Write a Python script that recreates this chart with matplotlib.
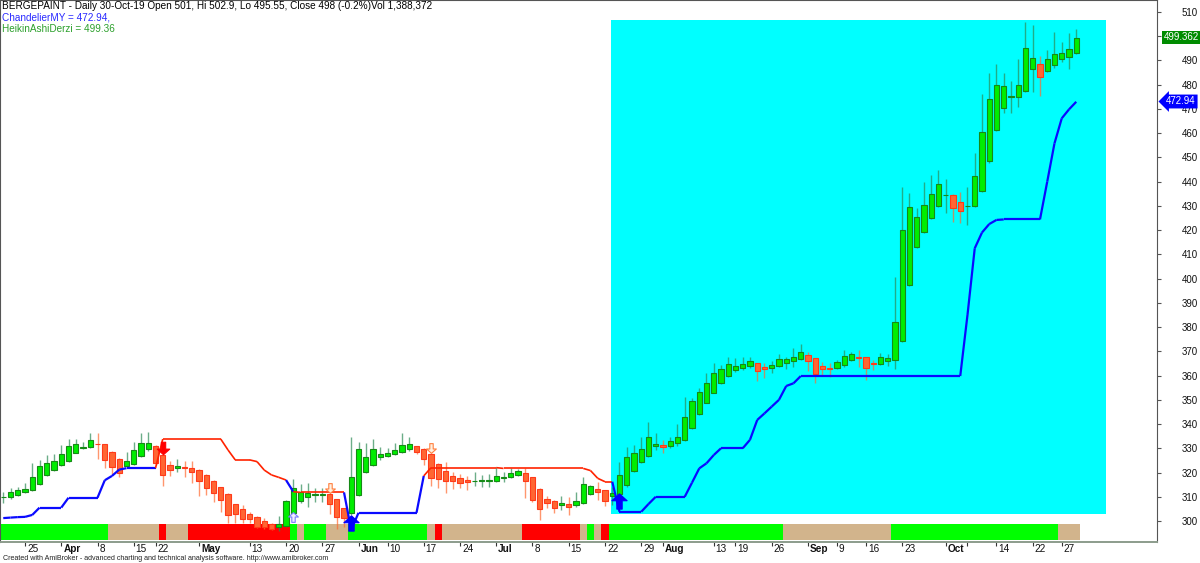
import numpy as np
import pandas as pd
import matplotlib
matplotlib.use("Agg")
import matplotlib.pyplot as plt
import matplotlib.transforms as mtransforms
from matplotlib.collections import LineCollection
from matplotlib.patches import Rectangle
from matplotlib.path import Path

plt.rcParams['font.family'] = ['Liberation Sans', 'DejaVu Sans']

# NSE trading days 19-Mar-2019 .. 30-Oct-2019 (27-Oct = Muhurat session)
holidays = ['2019-03-21', '2019-04-17', '2019-04-19', '2019-04-29', '2019-05-01',
            '2019-06-05', '2019-08-12', '2019-08-15', '2019-09-02', '2019-09-10',
            '2019-10-02', '2019-10-08', '2019-10-21', '2019-10-28']
extra_days = ['2019-10-27']

# Heikin Ashi candles (open, high, low, close)
ha_open = [309.8, 309.8, 310.7, 311.8, 312.8, 315.1, 319.0, 321.0, 323.1, 324.9,
           328.2, 330.0, 330.4, 331.8, 331.8, 328.5, 325.4, 322.5, 323.6, 327.0,
           329.5, 330.9, 327.3, 323.1, 322.0, 322.3, 322.0, 321.2, 319.0, 316.3,
           313.9, 311.2, 306.9, 304.8, 302.9, 301.8, 299.8, 298.6, 297.5, 298.0,
           303.2, 308.3, 310.0, 310.6, 310.8, 311.0, 309.0, 305.2, 303.1, 310.6,
           320.2, 323.2, 326.4, 327.0, 327.6, 328.5, 329.8, 330.8, 329.7, 327.6,
           323.5, 320.8, 318.6, 317.6, 316.9, 316.5, 316.6, 316.7, 316.7, 317.8,
           318.0, 319.0, 319.8, 318.1, 313.4, 309.1, 308.4, 306.6, 307.0, 306.4,
           307.3, 311.2, 313.0, 312.6, 310.4, 311.0, 315.0, 320.8, 324.3, 327.0,
           330.8, 331.4, 331.0, 332.0, 333.4, 338.2, 344.0, 348.8, 353.0, 357.0,
           359.7, 362.3, 363.2, 364.0, 365.0, 363.4, 363.0, 363.8, 365.2, 366.0,
           366.8, 368.3, 367.1, 363.8, 363.3, 363.0, 364.4, 366.4, 367.7, 367.5,
           365.3, 364.9, 366.2, 366.6, 374.3, 397.2, 413.2, 419.2, 424.8, 429.8,
           434.4, 434.5, 431.7, 429.8, 429.9, 436.2, 448.4, 461.2, 470.4, 475.0,
           475.1, 477.5, 486.3, 488.6, 485.8, 488.1, 490.4, 491.6, 493.1]
ha_high = [312.1, 313.7, 314.2, 315.5, 323.8, 325.2, 327.2, 327.6, 331.3, 333.7,
           333.7, 332.7, 336.4, 336.2, 331.8, 329.0, 326.0, 328.6, 332.7, 336.2,
           336.6, 331.5, 327.6, 324.8, 325.4, 324.8, 324.8, 321.3, 319.5, 317.0,
           314.0, 311.5, 307.0, 306.6, 303.8, 302.0, 301.1, 299.0, 302.0, 308.5,
           317.2, 315.3, 315.8, 313.7, 313.7, 311.5, 309.2, 305.4, 334.8, 332.7,
           332.0, 333.7, 330.7, 330.0, 332.0, 336.5, 334.8, 331.0, 330.0, 328.0,
           323.8, 324.5, 320.3, 319.4, 318.6, 320.3, 319.0, 319.5, 322.4, 320.3,
           321.7, 321.3, 321.7, 318.3, 313.6, 310.3, 308.6, 310.3, 309.8, 312.1,
           318.0, 314.8, 316.2, 312.8, 314.2, 324.5, 330.7, 331.3, 334.8, 341.0,
           336.4, 333.4, 334.8, 340.0, 351.3, 350.6, 354.7, 360.9, 365.0, 364.4,
           367.8, 367.1, 367.5, 367.5, 365.3, 365.3, 366.1, 368.8, 367.8, 371.2,
           372.9, 369.9, 367.2, 365.7, 365.0, 366.4, 370.5, 369.9, 370.5, 367.8,
           366.4, 369.2, 368.9, 400.8, 437.6, 435.2, 429.0, 440.0, 442.7, 444.8,
           440.9, 434.7, 435.8, 437.9, 451.7, 476.1, 484.7, 488.4, 484.7, 481.6,
           490.4, 505.7, 504.6, 491.8, 494.3, 501.6, 497.7, 501.2, 502.8]
ha_low = [307.3, 309.1, 310.3, 311.4, 312.5, 314.8, 318.6, 320.8, 322.7, 324.5,
          327.9, 329.6, 330.0, 325.4, 321.7, 319.5, 318.0, 322.1, 323.3, 326.2,
          329.0, 323.0, 314.4, 318.6, 320.3, 318.0, 315.5, 310.3, 310.7, 308.0,
          303.9, 299.0, 299.3, 299.3, 299.0, 297.0, 296.5, 296.2, 296.0, 297.5,
          302.9, 307.3, 305.9, 307.7, 307.7, 302.9, 296.5, 297.6, 302.5, 310.3,
          319.9, 322.8, 325.2, 326.5, 327.2, 327.9, 329.0, 327.5, 323.1, 314.4,
          313.5, 311.4, 313.0, 313.5, 312.8, 314.4, 313.9, 314.2, 316.2, 316.2,
          317.6, 318.6, 309.4, 308.0, 300.4, 305.2, 303.2, 304.5, 302.5, 305.9,
          307.0, 310.7, 308.7, 306.2, 306.6, 310.3, 314.2, 320.4, 323.8, 326.5,
          329.3, 327.9, 330.0, 331.0, 333.1, 337.8, 343.7, 348.5, 352.7, 356.5,
          359.3, 361.6, 362.3, 363.0, 357.8, 358.9, 360.9, 363.4, 362.6, 363.7,
          366.4, 362.0, 357.1, 360.2, 359.5, 362.6, 363.7, 366.0, 363.7, 358.2,
          362.3, 364.4, 364.0, 362.6, 373.9, 396.8, 412.5, 418.7, 424.5, 429.4,
          427.2, 423.5, 423.1, 422.1, 429.4, 435.9, 447.8, 460.9, 468.2, 468.2,
          470.9, 477.1, 477.1, 475.3, 485.4, 486.7, 489.5, 486.3, 492.7]
ha_close = [309.85, 311.8, 312.8, 313.4, 318.0, 322.7, 324.1, 324.7, 327.6, 331.1,
            331.8, 330.4, 333.4, 331.7, 325.2, 322.4, 319.6, 324.7, 329.3, 332.0,
            332.3, 323.8, 319.0, 321.0, 322.7, 321.7, 320.3, 316.6, 313.5, 311.4,
            308.6, 302.5, 302.7, 301.0, 300.7, 297.7, 297.4, 296.5, 298.6, 308.2,
            313.5, 311.8, 311.4, 311.0, 311.2, 307.0, 301.5, 301.1, 318.0, 329.6,
            326.3, 329.6, 327.5, 328.2, 329.3, 331.2, 331.8, 328.6, 325.4, 317.6,
            317.3, 316.5, 316.6, 315.8, 316.0, 316.6, 316.7, 316.8, 318.7, 318.3,
            319.7, 320.6, 316.5, 308.7, 304.8, 307.6, 305.2, 307.3, 305.9, 308.3,
            315.1, 314.6, 312.1, 308.3, 311.7, 319.0, 326.5, 327.9, 329.6, 334.5,
            331.8, 330.7, 333.1, 334.8, 342.8, 349.6, 353.4, 357.1, 360.9, 362.6,
            364.8, 364.1, 364.8, 366.1, 362.0, 362.6, 364.4, 366.8, 366.7, 367.8,
            369.9, 366.0, 360.6, 362.6, 362.7, 365.7, 368.2, 368.9, 367.1, 363.0,
            364.6, 367.5, 367.1, 382.1, 420.0, 429.4, 425.3, 430.4, 434.8, 439.0,
            434.6, 429.0, 428.0, 430.1, 442.5, 460.6, 473.9, 479.7, 479.6, 475.3,
            479.9, 495.0, 490.9, 483.0, 490.5, 492.6, 492.9, 494.6, 499.36]

# Chandelier stop and its trend (+1 long / -1 short) as run lengths
chandelier = [301.2, 301.4, 301.6, 301.7, 302.5, 305.5, 305.5, 305.5, 305.5, 309.6,
              309.6, 309.6, 309.6, 309.6, 316.8, 318.6, 321.2, 321.8, 321.8, 321.8,
              321.8, 321.8, 333.8, 333.8, 333.8, 333.8, 333.8, 333.8, 333.8, 333.8,
              333.8, 329.3, 325.2, 325.2, 325.2, 324.5, 321.0, 319.0, 318.0, 316.9,
              312.1, 311.8, 311.8, 311.8, 311.8, 311.8, 311.8, 311.8, 296.3, 303.4,
              303.4, 303.4, 303.4, 303.4, 303.4, 303.4, 303.4, 303.4, 318.6, 322.0,
              322.0, 322.0, 322.0, 322.0, 322.0, 322.0, 322.0, 322.0, 322.0, 321.7,
              321.7, 321.7, 321.7, 321.7, 321.7, 321.7, 321.7, 321.7, 321.7, 321.7,
              321.7, 320.8, 317.6, 316.2, 316.2, 303.8, 303.8, 303.8, 303.8, 307.0,
              310.0, 310.0, 310.0, 310.0, 310.0, 315.8, 321.7, 323.8, 327.2, 330.0,
              330.0, 330.0, 330.0, 333.5, 341.7, 344.4, 347.2, 350.0, 355.7, 356.8,
              359.8, 359.8, 359.8, 359.8, 359.8, 359.8, 359.8, 359.8, 359.8, 359.8,
              359.8, 359.8, 359.8, 359.8, 359.8, 359.8, 359.8, 359.8, 359.8, 359.8,
              359.8, 359.8, 359.8, 385.0, 412.5, 419.0, 422.5, 424.2, 424.4, 424.4,
              424.4, 424.4, 424.4, 424.4, 440.0, 455.8, 466.1, 469.8, 472.94]
trend_runs = [(1, 22), (-1, 18), (1, 1), (-1, 7), (1, 11), (-1, 26), (1, 64)]

# bottom ribbon: g = green, t = tan, r = red
ribbon_runs = [('g', 15), ('t', 7), ('r', 1), ('t', 3), ('r', 14), ('g', 1), ('t', 1),
               ('g', 3), ('t', 3), ('g', 11), ('t', 1), ('r', 1), ('t', 11), ('r', 8),
               ('t', 1), ('g', 1), ('t', 1), ('r', 1), ('g', 24), ('t', 15), ('g', 23),
               ('t', 3)]

# arrows: bar index, price, kind
signal_bars = [22, 40, 45, 48, 59, 85]
signal_price = [330.0, 301.5, 313.8, 299.0, 330.0, 308.3]
signal_kind = ['sell', 'buy_hint', 'sell_hint', 'buy', 'sell_hint', 'buy']

# highlighted zone (bar index range, price range)
zone_bars = (83.83, 152.1)
zone_price = (302.9, 506.7)

tick_dates = ['2019-03-25', '2019-04-01', '2019-04-08', '2019-04-15', '2019-04-22',
              '2019-05-02', '2019-05-13', '2019-05-20', '2019-05-27', '2019-06-03',
              '2019-06-10', '2019-06-17', '2019-06-24', '2019-07-01', '2019-07-08',
              '2019-07-15', '2019-07-22', '2019-07-29', '2019-08-01', '2019-08-13',
              '2019-08-19', '2019-08-26', '2019-09-03', '2019-09-09', '2019-09-16',
              '2019-09-23', '2019-10-01', '2019-10-07', '2019-10-14', '2019-10-22',
              '2019-10-27']
tick_labels = ['25', 'Apr', '8', '15', '22', 'May', '13', '20', '27', 'Jun', '10', '17',
               '24', 'Jul', '8', '15', '22', '29', 'Aug', '13', '19', '26', 'Sep', '9',
               '16', '23', 'Oct', '', '14', '22', '27']
months = {'Apr', 'May', 'Jun', 'Jul', 'Aug', 'Sep', 'Oct'}

title = "BERGEPAINT - Daily 30-Oct-19 Open 501, Hi 502.9, Lo 495.55, Close 498 (-0.2%)Vol 1,388,372"

dates = pd.bdate_range('2019-03-19', '2019-10-30', freq='C', holidays=holidays)
dates = dates.union(pd.DatetimeIndex(extra_days))
x = np.arange(len(dates))
o = np.array(ha_open)
h = np.array(ha_high)
l = np.array(ha_low)
c = np.array(ha_close)

fig = plt.figure(figsize=(12, 5.63), dpi=100)
W, H = 1200, 563
ax = fig.add_axes([0, 21.5 / H, 1157 / W, 541.5 / H])
ax.set_xlim(-0.45, 159.14)
ax.set_ylim(291.54, 514.93)

# cyan zone
ax.add_patch(Rectangle((zone_bars[0], zone_price[0]), zone_bars[1] - zone_bars[0],
                       zone_price[1] - zone_price[0], facecolor='#00ffff',
                       edgecolor='none', zorder=0.5))

# ribbon
rib_col = {'g': '#00ff00', 't': '#d2b48c', 'r': '#ff0000'}
start = 0
for code, n in ribbon_runs:
    ax.add_patch(Rectangle((start - 0.5, 0.002), n, 0.0305, transform=ax.get_xaxis_transform(),
                           facecolor=rib_col[code], edgecolor='none', zorder=1))
    start += n

# candles
up = c >= o
wick_col = np.where(up, '#2e8b57', '#ff6a30')
ax.vlines(x, l, h, colors=wick_col, lw=1.0, alpha=0.7, zorder=3)
body_lo = np.minimum(o, c)
body_h = np.maximum(np.abs(c - o), 0.15)
ax.bar(x[up], body_h[up], bottom=body_lo[up], width=0.72, color='#00ee00',
       edgecolor='#168a16', lw=0.8, zorder=4)
ax.bar(x[~up], body_h[~up], bottom=body_lo[~up], width=0.72, color='#ff6633',
       edgecolor='#ff3a1a', lw=0.8, zorder=4)

# chandelier line, coloured by trend
trend = np.concatenate([[t] * n for t, n in trend_runs])
stop = np.array(chandelier)
pts = np.column_stack([x, stop])
segs = np.stack([pts[:-1], pts[1:]], axis=1)
seg_col = ['#0a0aff' if t > 0 else '#ff2200' for t in trend[1:]]
seg_lw = [1.6 if t > 0 else 1.2 for t in trend[1:]]
ax.add_collection(LineCollection(segs, colors=seg_col, linewidths=seg_lw, zorder=5))

# arrows
arrow_up = Path([(0, 1), (1, 0.1), (0.35, 0.1), (0.35, -1), (-0.35, -1), (-0.35, 0.1),
                 (-1, 0.1), (0, 1)], closed=True)
arrow_dn = Path(arrow_up.vertices * [1, -1], arrow_up.codes)
sig_style = {
    'sell': dict(marker=arrow_dn, ms=9, mfc='#ff0000', mec='#ff0000'),
    'buy': dict(marker=arrow_up, ms=11, mfc='#0000ff', mec='#0000ff'),
    'sell_hint': dict(marker=arrow_dn, ms=7, mfc='#fff0e0', mec='#ff8040'),
    'buy_hint': dict(marker=arrow_up, ms=7, mfc='#f0f0ff', mec='#7a7aff'),
}
for b, p, k in zip(signal_bars, signal_price, signal_kind):
    ax.plot([b], [p], ls='none', mew=0.8, zorder=6, **sig_style[k])

# axes styling
for s in ['top', 'left', 'right']:
    ax.spines[s].set_color('#555555')
ax.spines['bottom'].set_color('#8c9c8c')
ax.spines['bottom'].set_linewidth(1.4)
ax.yaxis.tick_right()
ax.set_yticks(np.arange(300, 511, 10))
ax.tick_params(axis='y', length=3, width=0.8, color='#555555', pad=15, labelsize=7,
               labelcolor='#111111')

tick_pos = [dates.get_loc(pd.Timestamp(d)) for d in tick_dates]
ax.set_xticks(tick_pos)
ax.set_xticklabels([])
ax.tick_params(axis='x', length=3, width=0.8, color='#333333')
lab_tr = mtransforms.offset_copy(ax.get_xaxis_transform(), fig=fig, x=2, y=-7, units='dots')
for pos, lab in zip(tick_pos, tick_labels):
    ax.text(pos, 0, lab, transform=lab_tr, ha='left', va='center', fontsize=7.2,
            fontweight='bold' if lab in months else 'normal', color='#111111')

# header texts
fig.text(2 / W, 1 - 9 / H, title, fontsize=7.2, va='baseline', ha='left', color='#000000')
fig.text(2 / W, 1 - 21 / H, 'ChandelierMY = 472.94,', fontsize=7.2, va='baseline',
         ha='left', color='#2a2aff')
fig.text(2 / W, 1 - 31.7 / H, 'HeikinAshiDerzi = 499.36', fontsize=7.2, va='baseline',
         ha='left', color='#2ca02c')
fig.text(3 / W, 1 - 558 / H,
         'Created with AmiBroker - advanced charting and technical analysis software. '
         'http://www.amibroker.com', fontsize=5.1, va='center', ha='left', color='#222222')

# last value boxes on the price scale
fig.text(1164 / W, 1 - 37.5 / H, '499.362', fontsize=7, color='white', va='center',
         ha='left', bbox=dict(boxstyle='square,pad=0.2', fc='#008c00', ec='none'))
fig.text(1166 / W, 1 - 101.5 / H, '472.94', fontsize=7, color='white', va='center',
         ha='left', bbox=dict(boxstyle='larrow,pad=0.2', fc='#0000ff', ec='none'))

fig.savefig('out.png', dpi=100)
